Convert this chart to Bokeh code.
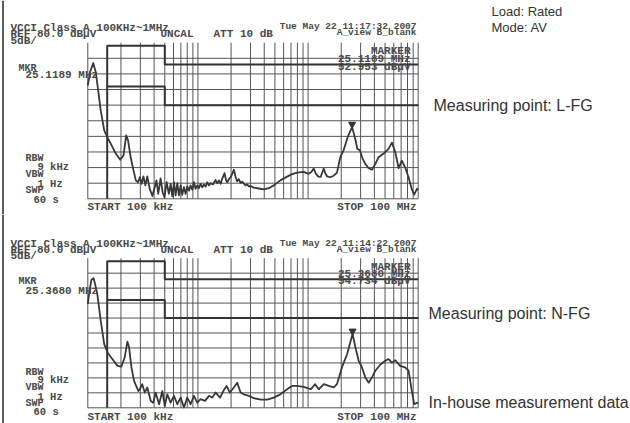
from bokeh.plotting import figure
from bokeh.layouts import column
from bokeh.models import Range1d, Span
from bokeh.core.properties import value
from bokeh.embed import file_html
from bokeh.resources import INLINE

# ---------------- data (frequency in MHz, level in dBuV) ----------------
freq_lfg = [0.100, 0.105, 0.112, 0.118, 0.122, 0.131, 0.141, 0.150, 0.162, 0.180,
            0.197, 0.211, 0.223, 0.232, 0.245, 0.260, 0.273, 0.286, 0.297, 0.308,
            0.320, 0.333, 0.347, 0.365, 0.386, 0.405, 0.420, 0.436, 0.458, 0.478,
            0.497, 0.520, 0.545, 0.566, 0.585, 0.606, 0.627, 0.650, 0.672, 0.697,
            0.720, 0.747, 0.773, 0.801, 0.830, 0.858, 0.889, 0.920, 0.952, 0.986,
            1.02, 1.057, 1.095, 1.134, 1.175, 1.215, 1.26, 1.303, 1.37, 1.446,
            1.50, 1.55, 1.61, 1.66, 1.745, 1.80, 1.845, 1.92, 1.978, 2.05,
            2.12, 2.20, 2.27, 2.35, 2.437, 2.52, 2.61, 2.70, 2.80, 2.90,
            3.00, 3.22, 3.57, 3.96, 4.40, 4.88, 5.61, 6.45, 7.16, 7.95,
            9.13, 10.14, 10.7, 11.26, 11.8, 12.4, 13.0, 13.87, 14.4, 14.9,
            15.9, 17.1, 18.3, 19.6, 21.0, 22.9, 25.1189, 26.9, 28.0, 29.5,
            31.0, 33.1, 35.5, 38.0, 40.8, 43.7, 48.5, 53.8, 57.7, 61.9,
            66.4, 71.1, 76.2, 81.7, 87.6, 92.0, 97.3, 100.0]
level_lfg = [66.3, 70.6, 73.5, 70.6, 66.8, 58.3, 51.9, 49.8, 47.6, 44.4,
             42.5, 43.9, 50.3, 48.7, 43.3, 39.1, 35.9, 35.3, 36.9, 34.8,
             37.2, 34.3, 37.2, 33.2, 30.9, 33.7, 35.9, 31.6, 36.5, 32.1,
             30.5, 35.3, 31.6, 34.8, 30.8, 35.3, 31.1, 35.0, 31.1, 34.3,
             31.3, 33.7, 31.6, 34.0, 32.6, 34.3, 32.9, 35.3, 33.2, 34.3,
             33.4, 34.8, 33.7, 34.6, 33.9, 35.3, 34.3, 35.0, 34.6, 36.0,
             35.0, 35.9, 34.8, 36.4, 38.2, 35.9, 35.3, 36.4, 36.9, 38.0,
             39.3, 37.0, 35.6, 36.3, 35.1, 35.5, 34.9, 34.3, 34.6, 34.0,
             34.1, 33.6, 33.3, 33.0, 33.4, 34.3, 35.9, 37.1, 37.9, 38.4,
             38.6, 38.0, 38.6, 39.7, 38.0, 37.1, 37.0, 39.7, 38.0, 37.2,
             36.9, 37.4, 38.4, 43.3, 45.5, 49.8, 52.953, 49.0, 46.0, 45.6,
             43.2, 41.2, 39.8, 39.3, 41.2, 43.3, 44.5, 46.0, 48.0, 45.0,
             39.8, 42.2, 40.0, 36.9, 33.0, 31.3, 33.2, 32.8]

freq_nfg = [0.100, 0.104, 0.108, 0.113, 0.117, 0.122, 0.131, 0.141, 0.151, 0.167,
            0.186, 0.202, 0.216, 0.229, 0.237, 0.249, 0.263, 0.288, 0.297, 0.312,
            0.329, 0.347, 0.373, 0.393, 0.413, 0.444, 0.475, 0.500, 0.527, 0.565,
            0.606, 0.650, 0.697, 0.747, 0.800, 0.858, 0.920, 0.986, 1.057, 1.160,
            1.260, 1.35, 1.446, 1.59, 1.70, 1.82, 1.95, 2.12, 2.27, 2.44,
            2.61, 2.90, 3.22, 3.75, 4.25, 4.88, 5.61, 6.45, 7.16, 7.95,
            9.13, 10.6, 11.6, 12.5, 13.9, 15.4, 17.1, 18.3, 20.3, 22.6,
            25.368, 26.9, 28.8, 30.9, 33.1, 35.5, 38.0, 40.8, 45.2, 50.2,
            53.8, 57.7, 61.9, 68.7, 76.2, 81.7, 87.6, 92.0, 97.3, 100.0]
level_nfg = [64.7, 69.5, 72.8, 73.3, 71.0, 68.0, 59.1, 51.3, 48.5, 46.3,
             44.0, 43.8, 46.8, 52.1, 50.2, 43.5, 39.0, 35.6, 36.2, 37.9,
             35.1, 36.8, 32.3, 31.7, 35.1, 31.2, 35.6, 30.6, 34.5, 31.7,
             34.0, 31.2, 33.4, 30.1, 33.4, 31.2, 34.0, 31.7, 32.9, 32.3,
             34.0, 33.4, 35.1, 33.4, 35.6, 37.3, 35.1, 36.8, 38.4, 35.1,
             34.5, 34.0, 33.2, 32.7, 32.7, 33.4, 34.5, 36.2, 37.3, 37.3,
             37.0, 36.2, 37.9, 36.2, 37.9, 37.3, 36.8, 37.9, 43.5, 47.9,
             54.734, 50.2, 45.7, 43.5, 40.1, 38.4, 40.1, 42.4, 44.4, 45.7,
             46.3, 45.1, 45.9, 44.0, 43.5, 42.4, 35.6, 31.2, 31.7, 31.5]

qp_limit_freq = [0.15, 0.15, 0.5, 0.5, 100.0]
qp_limit_level = [30, 79, 79, 73, 73]
av_limit_freq = [0.15, 0.5, 0.5, 100.0]
av_limit_level = [66, 66, 60, 60]

grid_freqs = [m * 10.0 ** e for e in (-1, 0, 1) for m in range(1, 10)] + [100.0]
grid_levels = [30, 35, 40, 45, 50, 55, 60, 65, 70, 75]

marker_freq_lfg, marker_level_lfg = 25.1189, 52.953
marker_freq_nfg, marker_level_nfg = 25.3680, 54.734

# ---------------- layout helpers ----------------
W = 630
LPX, RPX = 87.3, 417.7
MONO = value("Liberation Mono")
SANS = value("Liberation Sans")
INK = "#383838"
TXT = "#4a4a4a"


def make_chart(H, off, top, bottom, freqs, levels, mk_f, mk_l, texts, side_texts):
    ppd = (RPX - LPX) / 3.0
    ppdb = (bottom - top) / 50.0
    xs = 0.1 * 10 ** (-LPX / ppd)
    xe = 100.0 * 10 ** ((W - RPX) / ppd)
    ye = 80 + top / ppdb
    ys = 30 - (H - bottom) / ppdb
    p = figure(width=W, height=H, x_axis_type="log",
               x_range=Range1d(xs, xe), y_range=Range1d(ys, ye),
               x_axis_location=None, y_axis_location=None, min_border=0,
               toolbar_location=None, output_backend="svg",
               outline_line_color=None, background_fill_color="white",
               border_fill_color="white")
    p.grid.visible = False

    def X(px):
        return 0.1 * 10 ** ((px - LPX) / ppd)

    def Y(py):
        return 80 - ((py - off) - top) / ppdb

    n = len(grid_freqs)
    p.segment(x0=grid_freqs, y0=[30] * n, x1=grid_freqs, y1=[80] * n,
              line_color="#555555", line_width=1)
    m = len(grid_levels)
    p.segment(x0=[0.1] * m, y0=grid_levels, x1=[100.0] * m, y1=grid_levels,
              line_color="#555555", line_width=1)
    p.line(qp_limit_freq, qp_limit_level, line_color="#333333", line_width=2)
    p.line(av_limit_freq, av_limit_level, line_color="#333333", line_width=2)
    p.line(freqs, levels, line_color=INK, line_width=1.8, line_join="round")
    p.scatter([mk_f], [mk_l + 0.9], marker="inverted_triangle", size=7,
              color="#333333")

    # page border line on the left
    p.add_layout(Span(location=X(2.5), dimension="height",
                      line_color="#333333", line_width=1.6))

    for (txt, px, py, size, align) in texts:
        p.text(x=[X(px)], y=[Y(py)], text=[txt], text_font=MONO,
               text_font_size=f"{size}px", text_font_style="bold",
               text_color=TXT, text_align=align, text_baseline="middle")
    for (txt, px, py, size) in side_texts:
        p.text(x=[X(px)], y=[Y(py)], text=[txt], text_font=SANS,
               text_font_size=f"{size}px", text_color="#333333",
               text_align="left", text_baseline="middle")
    return p


texts_1 = [
    ("VCCI Class A 100KHz~1MHz", 10, 27.3, 11, "left"),
    ("REF 80.0 dBμV", 10, 33.8, 11, "left"),
    ("5dB/", 10, 40.3, 11, "left"),
    ("UNCAL", 160, 33.8, 11, "left"),
    ("ATT 10 dB", 213, 33.8, 11, "left"),
    ("Tue May 22 11:17:32 2007", 416, 25.5, 9.5, "right"),
    ("A_view B_blank", 416, 32.2, 9.5, "right"),
    ("MARKER", 410, 50.5, 11, "right"),
    ("25.1189 MHz", 410, 58, 11, "right"),
    ("52.953 dBμV", 410, 66, 11, "right"),
    ("MKR", 18, 68, 10, "left"),
    ("25.1189 MHz", 25, 74.5, 11, "left"),
    ("RBW", 25, 158, 10, "left"),
    ("9 kHz", 37, 166.5, 10.5, "left"),
    ("VBW", 25, 174, 10, "left"),
    ("1 Hz", 37, 183, 10.5, "left"),
    ("SWP", 25, 189.5, 10, "left"),
    ("60 s", 33, 199.5, 10.5, "left"),
    ("START 100 kHz", 87, 206.5, 11, "left"),
    ("STOP 100 MHz", 416, 206.5, 11, "right"),
]
side_1 = [
    ("Load: Rated", 491, 11, 13),
    ("Mode: AV", 491, 26.5, 13),
    ("Measuring point: L-FG", 433, 105, 16),
]

texts_2 = [
    ("VCCI Class A 100KHz~1MHz", 10, 243.3, 11, "left"),
    ("REF 80.0 dBμV", 10, 249.3, 11, "left"),
    ("5dB/", 10, 255.5, 11, "left"),
    ("UNCAL", 160, 249.3, 11, "left"),
    ("ATT 10 dB", 213, 249.3, 11, "left"),
    ("Tue May 22 11:14:22 2007", 416, 242.7, 9.5, "right"),
    ("A_view B_blank", 416, 249.3, 9.5, "right"),
    ("MARKER", 410, 266.7, 11, "right"),
    ("25.3680 MHz", 410, 273.3, 11, "right"),
    ("54.734 dBμV", 410, 280, 11, "right"),
    ("MKR", 18, 280.7, 10, "left"),
    ("25.3680 MHz", 25, 290, 11, "left"),
    ("RBW", 25, 371.7, 10, "left"),
    ("9 kHz", 37, 379.3, 10.5, "left"),
    ("VBW", 25, 387.3, 10, "left"),
    ("1 Hz", 37, 396.7, 10.5, "left"),
    ("SWP", 25, 403.3, 10, "left"),
    ("60 s", 33, 411.7, 10.5, "left"),
    ("START 100 kHz", 87, 416.2, 11, "left"),
    ("STOP 100 MHz", 416, 416.2, 11, "right"),
]
side_2 = [
    ("Measuring point: N-FG", 428, 313, 16),
    ("In-house measurement data", 428, 402, 16),
]

H1 = 214
H2 = 423 - H1
p1 = make_chart(H1, 0, 42.2, 198.3, freq_lfg, level_lfg,
                marker_freq_lfg, marker_level_lfg, texts_1, side_1)
p2 = make_chart(H2, H1, 257.7 - H1, 407.3 - H1, freq_nfg, level_nfg,
                marker_freq_nfg, marker_level_nfg, texts_2, side_2)

layout = column(p1, p2, spacing=0)
open("out.html", "w").write(file_html(layout, INLINE))
